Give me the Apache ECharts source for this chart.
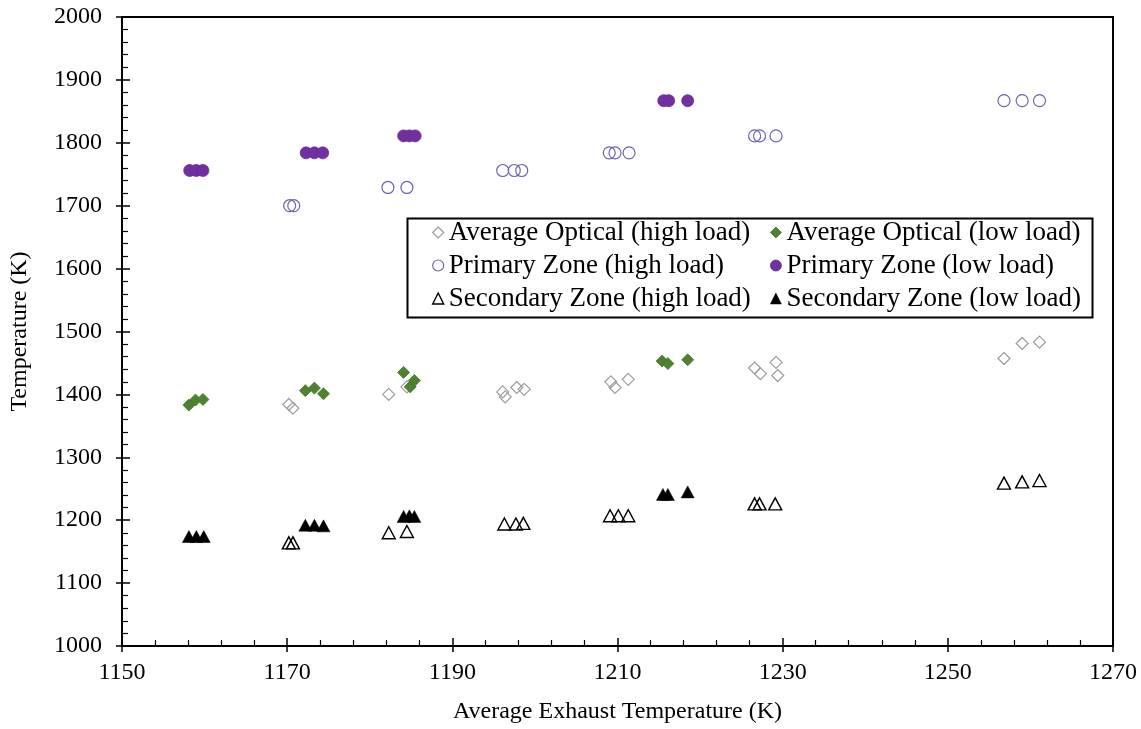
<!DOCTYPE html>
<html>
<head>
<meta charset="utf-8">
<script src="https://cdn.jsdelivr.net/npm/echarts@6/dist/echarts.min.js"></script>
<style>
  html, body { margin: 0; padding: 0; background: #ffffff; }
  #chart { width: 1141px; height: 729px; }
</style>
</head>
<body>
<div id="chart"></div>
<script>
// Axis ranges and tick steps
const xRange = [1150, 1270];
const xStep = 20;
const yRange = [1000, 2000];
const yStep = 100;

// Series names (legend order: high load column, low load column)
const nameOpticalHigh = 'Average Optical (high load)';
const nameOpticalLow = 'Average Optical (low load)';
const namePrimaryHigh = 'Primary Zone (high load)';
const namePrimaryLow = 'Primary Zone (low load)';
const nameSecondaryHigh = 'Secondary Zone (high load)';
const nameSecondaryLow = 'Secondary Zone (low load)';

// [average exhaust temperature K, temperature K]
const opticalHigh = [
  [1170.2, 1384], [1170.7, 1378],
  [1182.3, 1400], [1184.5, 1412],
  [1196.1, 1404], [1196.4, 1396], [1197.8, 1411], [1198.7, 1408],
  [1209.2, 1420], [1209.7, 1411], [1211.3, 1424],
  [1226.6, 1442], [1227.3, 1433], [1229.2, 1451], [1229.4, 1430],
  [1256.8, 1457], [1259.0, 1481], [1261.1, 1483]
];
const opticalLow = [
  [1158.1, 1383], [1158.9, 1391], [1159.8, 1392],
  [1172.2, 1406], [1173.3, 1410], [1174.4, 1401],
  [1184.1, 1435], [1184.9, 1412], [1185.4, 1422],
  [1215.4, 1453], [1216.1, 1449], [1218.5, 1455]
];
const primaryHigh = [
  [1170.3, 1700], [1170.8, 1700],
  [1182.2, 1729], [1184.5, 1729],
  [1196.1, 1756], [1197.5, 1756], [1198.4, 1756],
  [1209.0, 1784], [1209.7, 1784], [1211.4, 1784],
  [1226.6, 1811], [1227.2, 1811], [1229.2, 1811],
  [1256.8, 1867], [1259.0, 1867], [1261.1, 1867]
];
const primaryLow = [
  [1158.2, 1756], [1159.0, 1756], [1159.8, 1756],
  [1172.3, 1784], [1173.3, 1784], [1174.3, 1784],
  [1184.1, 1811], [1184.8, 1811], [1185.5, 1811],
  [1215.6, 1867], [1216.2, 1867], [1218.5, 1867]
];
const secondaryHigh = [
  [1170.2, 1164], [1170.7, 1164],
  [1182.3, 1180], [1184.5, 1182],
  [1196.3, 1194], [1197.7, 1194], [1198.6, 1195],
  [1209.1, 1207], [1210.1, 1207], [1211.3, 1207],
  [1226.6, 1226], [1227.2, 1226], [1229.1, 1226],
  [1256.8, 1259], [1259.0, 1261], [1261.1, 1263]
];
const secondaryLow = [
  [1158.1, 1174], [1159.0, 1174], [1159.9, 1174],
  [1172.2, 1192], [1173.3, 1192], [1174.4, 1191],
  [1184.1, 1206], [1184.8, 1207], [1185.4, 1206],
  [1215.5, 1241], [1216.1, 1241], [1218.5, 1245]
];

const serif = "'Liberation Serif', 'Times New Roman', serif";
const clear = 'rgba(255,255,255,0)';

const styles = {};
styles[nameOpticalHigh]   = { symbol: 'diamond',  size: 12,       itemStyle: { color: clear, borderColor: '#9d9d9d', borderWidth: 1.2, opacity: 1 } };
styles[nameOpticalLow]    = { symbol: 'diamond',  size: 12,       itemStyle: { color: '#4f8230', borderColor: '#46752a', borderWidth: 0.8, opacity: 1 } };
styles[namePrimaryHigh]   = { symbol: 'circle',   size: 12,       itemStyle: { color: clear, borderColor: '#6d62b3', borderWidth: 1.2, opacity: 1 } };
styles[namePrimaryLow]    = { symbol: 'circle',   size: 12,       itemStyle: { color: '#7030a0', borderColor: '#6a2c98', borderWidth: 0.8, opacity: 1 } };
styles[nameSecondaryHigh] = { symbol: 'triangle', size: [13, 12], itemStyle: { color: clear, borderColor: '#000000', borderWidth: 1.4, opacity: 1 } };
styles[nameSecondaryLow]  = { symbol: 'triangle', size: [13, 12], itemStyle: { color: '#000000', borderColor: '#000000', borderWidth: 0.5, opacity: 1 } };

function scatter(name, data) {
  const s = styles[name];
  return {
    name: name,
    type: 'scatter',
    data: data,
    symbol: s.symbol,
    symbolSize: s.size,
    itemStyle: s.itemStyle,
    emphasis: { disabled: true },
    animation: false
  };
}

function legendItem(name) {
  const s = styles[name];
  return { name: name, icon: s.symbol, itemStyle: s.itemStyle };
}

const legendCommon = {
  orient: 'vertical',
  top: 219,
  padding: 0,
  itemWidth: 11,
  itemHeight: 11,
  itemGap: 6,
  selectedMode: false,
  textStyle: { fontFamily: serif, fontSize: 27, color: '#000', lineHeight: 27, padding: [0, 0, 0, 0] }
};

const axisText = { fontFamily: serif, fontSize: 24, color: '#000' };
const plainNumber = function (v) { return String(v); };

const chart = echarts.init(document.getElementById('chart'), null, { renderer: 'canvas' });
chart.setOption({
  backgroundColor: '#ffffff',
  animation: false,
  grid: {
    left: 120, right: 28, top: 17, bottom: 82,
    show: true, borderColor: '#000', borderWidth: 2, backgroundColor: 'transparent'
  },
  xAxis: [
    {
      type: 'value', min: xRange[0], max: xRange[1], interval: xStep, position: 'bottom',
      name: 'Average Exhaust Temperature (K)', nameLocation: 'middle', nameGap: 54,
      nameTextStyle: axisText,
      axisLine: { show: true, onZero: false, lineStyle: { color: '#000', width: 2 } },
      axisTick: { show: true, inside: false, length: 6, lineStyle: { color: '#000', width: 1.5 } },
      minorTick: { show: false },
      axisLabel: Object.assign({ margin: 15, formatter: plainNumber }, axisText),
      splitLine: { show: false }
    },
    {
      type: 'value', min: xRange[0], max: xRange[1], interval: xStep, position: 'bottom',
      axisLine: { show: false, onZero: false },
      axisTick: { show: true, inside: true, length: 8, lineStyle: { color: '#000', width: 1.5 } },
      minorTick: { show: true, splitNumber: 5, length: 6, lineStyle: { color: '#000', width: 1.2 } },
      axisLabel: { show: false },
      splitLine: { show: false }
    }
  ],
  yAxis: [
    {
      type: 'value', min: yRange[0], max: yRange[1], interval: yStep, position: 'left',
      name: 'Temperature (K)', nameLocation: 'middle', nameGap: 90,
      nameTextStyle: axisText,
      axisLine: { show: true, onZero: false, lineStyle: { color: '#000', width: 2 } },
      axisTick: { show: true, inside: false, length: 6, lineStyle: { color: '#000', width: 1.5 } },
      minorTick: { show: false },
      axisLabel: Object.assign({ margin: 20, formatter: plainNumber }, axisText),
      splitLine: { show: false }
    },
    {
      type: 'value', min: yRange[0], max: yRange[1], interval: yStep, position: 'left',
      axisLine: { show: false, onZero: false },
      axisTick: { show: true, inside: true, length: 8, lineStyle: { color: '#000', width: 1.5 } },
      minorTick: { show: true, splitNumber: 5, length: 6, lineStyle: { color: '#000', width: 1.2 } },
      axisLabel: { show: false },
      splitLine: { show: false }
    }
  ],
  legend: [
    Object.assign({ left: 432, data: [nameOpticalHigh, namePrimaryHigh, nameSecondaryHigh].map(legendItem) }, legendCommon),
    Object.assign({ left: 770, data: [nameOpticalLow, namePrimaryLow, nameSecondaryLow].map(legendItem) }, legendCommon)
  ],
  graphic: [
    {
      type: 'rect', left: 405, top: 216, z: 1,
      shape: { width: 685, height: 99 },
      style: { fill: 'none', stroke: '#000', lineWidth: 2 }
    }
  ],
  series: [
    scatter(nameOpticalHigh, opticalHigh),
    scatter(nameOpticalLow, opticalLow),
    scatter(namePrimaryHigh, primaryHigh),
    scatter(namePrimaryLow, primaryLow),
    scatter(nameSecondaryHigh, secondaryHigh),
    scatter(nameSecondaryLow, secondaryLow)
  ]
});
</script>
</body>
</html>
